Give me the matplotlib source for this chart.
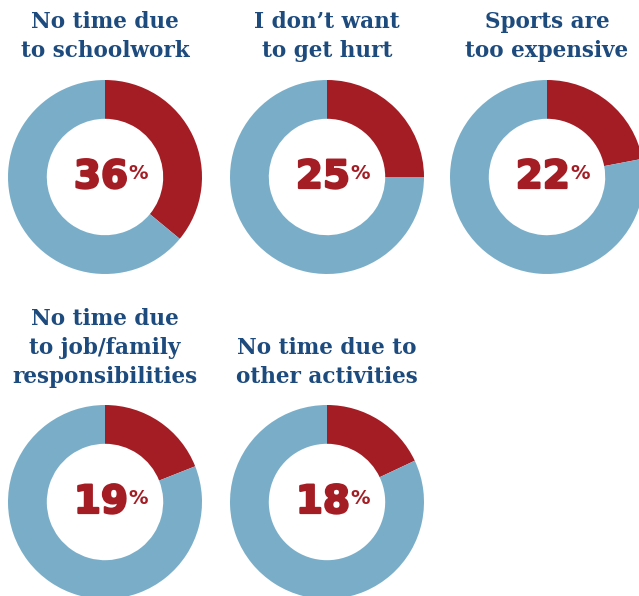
import matplotlib.pyplot as plt
import matplotlib.patheffects as pe

W, H = 639, 596

titles = [
    ["No time due", "to schoolwork"],
    ["I don\u2019t want", "to get hurt"],
    ["Sports are", "too expensive"],
    ["No time due", "to job/family", "responsibilities"],
    ["No time due to", "other activities"],
]
shares = [36, 25, 22, 19, 18]

# donut centres and title baselines, in pixels from top-left
centres = [(105, 177), (327, 177), (547, 177), (105, 502), (327, 502)]
last_baseline = [57, 57, 57, 383, 383]

RED = "#a51d24"
BLUE = "#7aaec8"
NAVY = "#1d4b7e"
R = 97
LINE = 29

fig = plt.figure(figsize=(W / 100, H / 100), dpi=100)


def px(x, y):
    return x / W, 1 - y / H


heavy = [pe.withStroke(linewidth=1.6, foreground=RED)]

for title, v, (cx, cy), base in zip(titles, shares, centres, last_baseline):
    ax = fig.add_axes([(cx - R) / W, (H - cy - R) / H, 2 * R / W, 2 * R / H])
    ax.pie([v, 100 - v], colors=[RED, BLUE], startangle=90, counterclock=False,
           radius=1, wedgeprops=dict(width=0.4, linewidth=0))
    ax.set_xlim(-1, 1)
    ax.set_ylim(-1, 1)
    ax.set_aspect("auto")
    ax.axis("off")

    n = len(title)
    for i, line in enumerate(title):
        fig.text(*px(cx, base - (n - 1 - i) * LINE), line, ha="center", va="baseline",
                 fontsize=15.5, fontweight="bold", family="DejaVu Serif", color=NAVY)

    # big number with a small raised percent sign
    fig.text(*px(cx + 23, cy + 11), str(v), ha="right", va="baseline",
             fontsize=28, fontweight="bold", family="DejaVu Sans", color=RED,
             path_effects=heavy)
    fig.text(*px(cx + 23, cy - 13), "%", ha="left", va="top",
             fontsize=14, fontweight="bold", family="DejaVu Sans", color=RED)

fig.savefig("out.png", dpi=100)
